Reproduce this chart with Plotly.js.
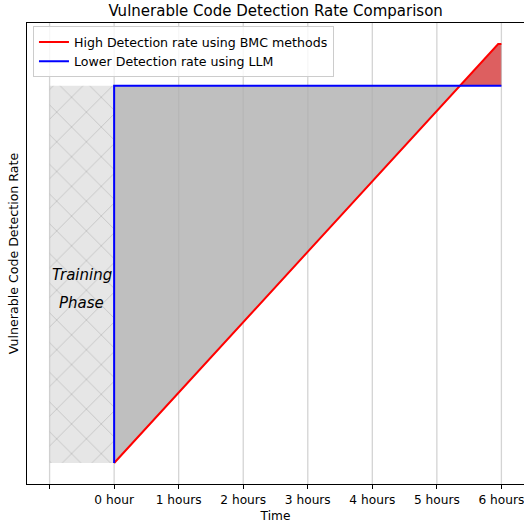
<!DOCTYPE html>
<html>
<head>
<meta charset="utf-8">
<script src="https://cdn.plot.ly/plotly-3.0.1.min.js"></script>
<style>html,body{margin:0;padding:0;background:#fff;}#chart{width:524px;height:525px;}</style>
</head>
<body>
<div id="chart"></div>
<script>
// ---- data ----
const bmcHours = [0, 5.95, 6];
const bmcRate = [0, 1, 1];
const llmHours = [0, 0, 6];
const llmRate = [0, 0.9, 0.9];
const trainingStart = -1;
const trainingEnd = 0;
const trainingRate = 0.9;
const tickHours = [-1, 0, 1, 2, 3, 4, 5, 6];
const tickLabels = ['', '0 hour', '1 hours', '2 hours', '3 hours', '4 hours', '5 hours', '6 hours'];
const bmcName = 'High Detection rate using BMC methods';
const llmName = 'Lower Detection rate using LLM';
const xRange = [-1.35, 6.35];
const yRange = [-0.05, 1.05];

// ---- derived fill polygons ----
const plateau = llmRate[llmRate.length - 1];
const xEnd = llmHours[llmHours.length - 1];
let xCross = xEnd;
for (let i = 0; i < bmcHours.length - 1; i++) {
  if (bmcRate[i] <= plateau && bmcRate[i + 1] >= plateau) {
    xCross = bmcHours[i] + (plateau - bmcRate[i]) / (bmcRate[i + 1] - bmcRate[i]) * (bmcHours[i + 1] - bmcHours[i]);
    break;
  }
}
const grayX = [llmHours[0], llmHours[1], xCross];
const grayY = [llmRate[0], llmRate[1], plateau];
for (let i = bmcHours.length - 1; i >= 0; i--) {
  if (bmcHours[i] < xCross) { grayX.push(bmcHours[i]); grayY.push(bmcRate[i]); }
}
const redX = [xCross], redY = [plateau];
for (let i = 0; i < bmcHours.length; i++) {
  if (bmcHours[i] > xCross) { redX.push(bmcHours[i]); redY.push(bmcRate[i]); }
}
redX.push(xEnd); redY.push(plateau);

const trainX = [trainingStart, trainingEnd, trainingEnd, trainingStart];
const trainY = [0, 0, trainingRate, trainingRate];

// vertical grid lines (drawn above fills, below data lines)
const gridX = [], gridY = [];
tickHours.forEach(h => { gridX.push(h, h, null); gridY.push(yRange[0], yRange[1], null); });

const font = 'DejaVu Sans, sans-serif';

const traces = [
  {x: trainX, y: trainY, type: 'scatter', mode: 'lines', fill: 'toself',
   line: {width: 0}, fillcolor: '#e6e6e6',
   fillpattern: {shape: 'x', size: 21, solidity: 0.07, fgcolor: '#bdbdbd', bgcolor: '#e6e6e6'},
   showlegend: false, hoverinfo: 'skip'},
  {x: grayX, y: grayY, type: 'scatter', mode: 'lines', fill: 'toself',
   line: {width: 0}, fillcolor: '#bfbfbf', showlegend: false, hoverinfo: 'skip'},
  {x: redX, y: redY, type: 'scatter', mode: 'lines', fill: 'toself',
   line: {width: 0}, fillcolor: '#dd5f60', showlegend: false, hoverinfo: 'skip'},
  {x: gridX, y: gridY, type: 'scatter', mode: 'lines', connectgaps: false,
   line: {color: 'rgba(176,176,176,0.55)', width: 1.3}, showlegend: false, hoverinfo: 'skip'},
  {x: bmcHours, y: bmcRate, type: 'scatter', mode: 'lines', name: bmcName,
   line: {color: '#ff0000', width: 2}},
  {x: llmHours, y: llmRate, type: 'scatter', mode: 'lines', name: llmName,
   line: {color: '#0000ff', width: 2}}
];

const layout = {
  width: 524, height: 525,
  margin: {l: 27, r: 0, t: 23, b: 41},
  paper_bgcolor: '#fff', plot_bgcolor: '#fff',
  font: {family: font, size: 12.2, color: '#000'},
  title: {text: 'Vulnerable Code Detection Rate Comparison', font: {family: font, size: 15, color: '#000'},
          x: 0.526, xanchor: 'center', y: 0.979, yanchor: 'middle'},
  xaxis: {range: xRange, tickvals: tickHours, ticktext: tickLabels,
          showgrid: false,
          showline: true, linecolor: '#000', linewidth: 1, mirror: true,
          ticks: 'outside', ticklen: 4, tickwidth: 1, tickcolor: '#000',
          ticklabeloverflow: 'allow',
          tickfont: {family: font, size: 12.2, color: '#000'}, zeroline: false,
          title: {text: 'Time', font: {family: font, size: 12.2, color: '#000'}, standoff: 5}},
  yaxis: {range: yRange, showticklabels: false, ticks: '', showgrid: false, zeroline: false,
          showline: true, linecolor: '#000', linewidth: 1, mirror: false,
          automargin: true,
          title: {text: 'Vulnerable Code Detection Rate', standoff: 4, font: {family: font, size: 12.6, color: '#000'}}},
  legend: {x: 0.012, y: 0.993, xanchor: 'left', yanchor: 'top',
           bgcolor: 'rgba(255,255,255,0.8)', bordercolor: '#cccccc', borderwidth: 1,
           font: {family: font, size: 12.6, color: '#000'}, tracegroupgap: 0},
  annotations: [
    {x: (trainingStart + trainingEnd) / 2, y: trainingRate * 0.498, xref: 'x', yref: 'y',
     text: '<i>Training</i>', showarrow: false, font: {family: font, size: 15, color: '#000'}},
    {x: (trainingStart + trainingEnd) / 2, y: trainingRate * 0.424, xref: 'x', yref: 'y',
     text: '<i>Phase</i>', showarrow: false, font: {family: font, size: 15, color: '#000'}}
  ],
  showlegend: true
};

Plotly.newPlot('chart', traces, layout, {staticPlot: true, displayModeBar: false});
</script>
</body>
</html>
